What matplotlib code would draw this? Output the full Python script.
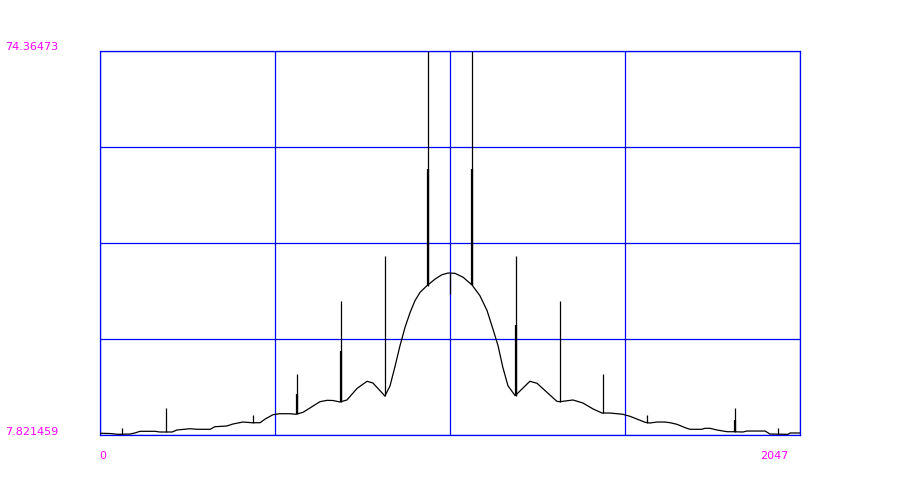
import numpy as np
import matplotlib
matplotlib.use("Agg")
import matplotlib.pyplot as plt

# smooth part of the spectrum (sample index, value)
curve_idx = [0, 29, 53, 88, 102, 117, 161, 175, 211, 225, 263, 284, 322, 336,
             371, 389, 418, 444, 468, 483, 506, 526, 556, 573, 594, 614, 643,
             664, 681, 702, 722, 752, 781, 798, 819, 833, 848, 863, 877, 892,
             907, 921, 936, 956, 980, 1000, 1018, 1038, 1062, 1088, 1111, 1132,
             1149, 1164, 1178, 1193, 1214, 1234, 1257, 1278, 1307, 1336, 1345,
             1383, 1412, 1442, 1468, 1491, 1529, 1550, 1570, 1594, 1608, 1629,
             1652, 1667, 1687, 1711, 1725, 1760, 1769, 1784, 1804, 1834, 1851,
             1880, 1892, 1945, 1959, 2012, 2018, 2047]
curve_val = [8.12, 8.08, 7.94, 7.99, 8.17, 8.46, 8.46, 8.34, 8.34, 8.69, 8.91,
             8.81, 8.81, 9.26, 9.38, 9.73, 10.07, 9.95, 9.95, 10.59, 11.34,
             11.51, 11.51, 11.41, 11.76, 12.50, 13.59, 13.83, 13.80, 13.54,
             13.89, 15.91, 17.13, 16.83, 15.50, 14.58, 16.31, 19.78, 23.24,
             26.48, 29.08, 31.09, 32.55, 33.69, 34.85, 35.60, 35.89, 35.84,
             35.15, 33.81, 31.96, 29.36, 26.19, 23.30, 19.55, 16.36, 14.63,
             15.79, 17.13, 16.78, 15.22, 13.66, 13.59, 13.89, 13.37, 12.33,
             11.63, 11.63, 11.41, 11.06, 10.59, 10.02, 9.90, 10.07, 10.07,
             9.95, 9.68, 9.09, 8.81, 8.81, 8.98, 8.98, 8.69, 8.39, 8.39, 8.34,
             8.51, 8.51, 7.99, 7.94, 8.17, 8.17]

# narrow peaks: index, base value, peak value, neighbouring sample (thick part)
spike_idx = [64, 192, 448, 576, 704, 832, 960, 1024, 1088, 1216, 1344, 1472,
             1600, 1856, 1984]
spike_base = [7.94, 8.34, 9.95, 11.41, 13.54, 14.58, 33.69, 35.89, 33.81,
              14.63, 13.59, 11.63, 9.90, 8.39, 7.94]
spike_top = [9.09, 12.50, 11.34, 18.44, 31.04, 38.84, 74.36, 32.26, 74.36,
             38.84, 31.04, 18.44, 11.34, 12.50, 9.04]
spike_second = [None, None, None, 14.93, 22.38, None, 53.92, None, 53.92,
                26.88, None, None, None, 10.47, None]

y_min, y_max = 7.821459, 74.36473
x_min, x_max = 0, 2047

fig = plt.figure(figsize=(9, 4.85), dpi=100)
ax = fig.add_axes([100 / 900, 49 / 485, 700 / 900, 384 / 485])

ax.plot(curve_idx, curve_val, color='black', lw=0.9, zorder=3)
ax.vlines(spike_idx, spike_base, spike_top, color='black', lw=0.9, zorder=3)
for x, b, s in zip(spike_idx, spike_base, spike_second):
    if s is not None:
        ax.vlines(x, b, s, color='black', lw=1.6, zorder=3)

ax.set_xlim(x_min, x_max)
ax.set_ylim(y_min, y_max)
ax.set_xticks(np.linspace(x_min, x_max, 5))
ax.set_yticks(np.linspace(y_min, y_max, 5))
ax.tick_params(length=0, labelbottom=False, labelleft=False)
ax.grid(True, color='#0000FF', lw=0.9)
ax.set_axisbelow(True)
for sp in ax.spines.values():
    sp.set_color('#0000FF')
    sp.set_linewidth(0.9)

mag = '#FF00FF'
fig.text(5 / 900, 1 - 47 / 485, '%.5f' % y_max, color=mag, fontsize=8,
         ha='left', va='center')
fig.text(5 / 900, 1 - 432 / 485, '%.6f' % y_min, color=mag, fontsize=8,
         ha='left', va='center')
fig.text(103 / 900, 1 - 456 / 485, str(x_min), color=mag, fontsize=8,
         ha='center', va='center')
fig.text(774 / 900, 1 - 456 / 485, str(x_max), color=mag, fontsize=8,
         ha='center', va='center')

fig.savefig('out.png', dpi=100)
